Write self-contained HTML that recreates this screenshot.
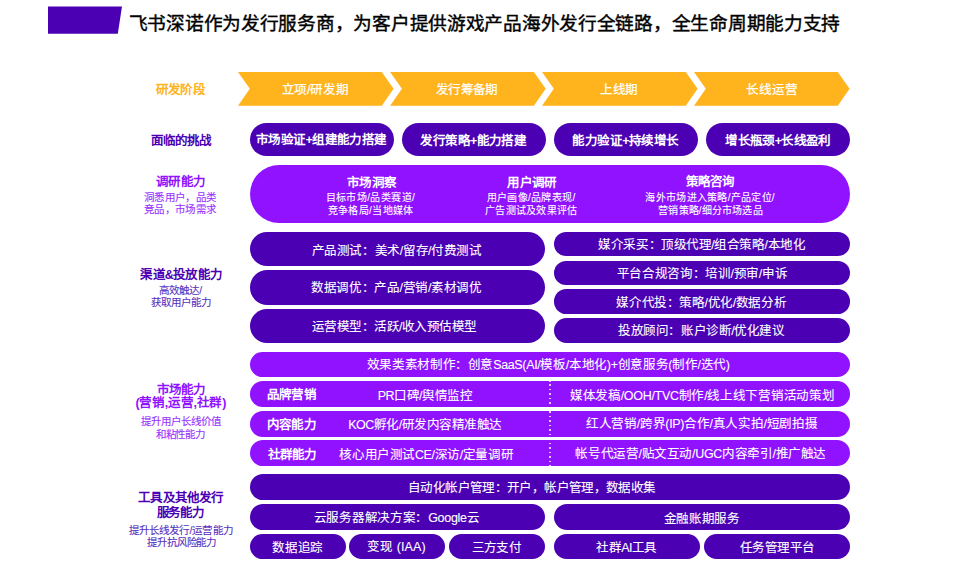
<!DOCTYPE html>
<html lang="zh-CN"><head><meta charset="utf-8">
<style>
*{margin:0;padding:0;box-sizing:border-box}
html,body{width:960px;height:571px;background:#fff;overflow:hidden;font-family:"Liberation Sans",sans-serif}
.a{position:absolute}
.t{position:absolute;white-space:nowrap;text-align:center;line-height:1}
</style></head><body>
<svg class="a" style="left:0;top:0" width="960" height="571">
<polygon points="48,6.5 122,6.5 117.8,33.8 48,33.8" fill="#4B00B4"/>
<polygon points="238,72 381.8,72 393.6,88.85 381.8,105.7 238,105.7 249.8,88.85" fill="#FFB31D"/>
<polygon points="390.1,72 533.9,72 545.7,88.85 533.9,105.7 390.1,105.7 401.9,88.85" fill="#FFB31D"/>
<polygon points="542.05,72 685.8,72 697.6,88.85 685.8,105.7 542.05,105.7 553.8,88.85" fill="#FFB31D"/>
<polygon points="694,72 837.8,72 849.6,88.85 837.8,105.7 694,105.7 705.8,88.85" fill="#FFB31D"/>
</svg>
<div class="a" style="left:249.5px;top:122.9px;width:144.2px;height:33.3px;border-radius:16.6px;background:#4B00B4"></div>
<div class="a" style="left:401.9px;top:122.9px;width:144.0px;height:33.3px;border-radius:16.6px;background:#4B00B4"></div>
<div class="a" style="left:554.1px;top:122.9px;width:143.9px;height:33.3px;border-radius:16.6px;background:#4B00B4"></div>
<div class="a" style="left:706.0px;top:122.9px;width:143.9px;height:33.3px;border-radius:16.6px;background:#4B00B4"></div>
<div class="a" style="left:249.5px;top:164.6px;width:600.6px;height:58.4px;border-radius:29.2px;background:#9012FF"></div>
<div class="a" style="left:249.5px;top:231.5px;width:295.8px;height:34.8px;border-radius:17.4px;background:#4B00B4"></div>
<div class="a" style="left:249.5px;top:269.9px;width:295.8px;height:34.8px;border-radius:17.4px;background:#4B00B4"></div>
<div class="a" style="left:249.5px;top:308.5px;width:295.8px;height:34.6px;border-radius:17.3px;background:#4B00B4"></div>
<div class="a" style="left:554.4px;top:231.5px;width:295.6px;height:24.8px;border-radius:12.4px;background:#4B00B4"></div>
<div class="a" style="left:554.4px;top:260.5px;width:295.6px;height:24.8px;border-radius:12.4px;background:#4B00B4"></div>
<div class="a" style="left:554.4px;top:289.4px;width:295.6px;height:24.6px;border-radius:12.3px;background:#4B00B4"></div>
<div class="a" style="left:554.4px;top:318.4px;width:295.6px;height:24.7px;border-radius:12.4px;background:#4B00B4"></div>
<div class="a" style="left:249.5px;top:351.5px;width:600.5px;height:25.8px;border-radius:12.9px;background:#9012FF"></div>
<div class="a" style="left:249.5px;top:381.2px;width:600.5px;height:25.6px;border-radius:12.8px;background:#9012FF"></div>
<div class="a" style="left:249.5px;top:410.8px;width:600.5px;height:25.8px;border-radius:12.9px;background:#9012FF"></div>
<div class="a" style="left:249.5px;top:440.2px;width:600.5px;height:26.0px;border-radius:13.0px;background:#9012FF"></div>
<div class="a" style="left:249.5px;top:474.2px;width:600.5px;height:26.0px;border-radius:13.0px;background:#4B00B4"></div>
<div class="a" style="left:249.5px;top:503.9px;width:295.5px;height:26.0px;border-radius:13.0px;background:#4B00B4"></div>
<div class="a" style="left:554.4px;top:503.9px;width:295.6px;height:26.0px;border-radius:13.0px;background:#4B00B4"></div>
<div class="a" style="left:249.5px;top:533.6px;width:96.3px;height:25.9px;border-radius:12.9px;background:#4B00B4"></div>
<div class="a" style="left:349.2px;top:533.6px;width:96.1px;height:25.9px;border-radius:12.9px;background:#4B00B4"></div>
<div class="a" style="left:449.2px;top:533.6px;width:95.8px;height:25.9px;border-radius:12.9px;background:#4B00B4"></div>
<div class="a" style="left:554.4px;top:533.6px;width:145.8px;height:25.9px;border-radius:12.9px;background:#4B00B4"></div>
<div class="a" style="left:704.4px;top:533.6px;width:145.6px;height:25.9px;border-radius:12.9px;background:#4B00B4"></div>
<div class="a" style="left:549px;top:380.35px;width:2px;height:86.6px;background:repeating-linear-gradient(to bottom,rgba(255,255,255,.8) 0,rgba(255,255,255,.8) 1.5px,transparent 1.5px,transparent 4.48px)"></div>
<div id="title" class="t" style="left:84.54px;top:15.39px;width:800px;font-size:18.7px;font-weight:400;color:#000;letter-spacing:-0.277px;text-indent:-0.277px;-webkit-text-stroke:0.4px #000">飞书深诺作为发行服务商，为客户提供游戏产品海外发行全链路，全生命周期能力支持</div>
<div id="yfjd" class="t" style="left:-219.30px;top:84.08px;width:800px;font-size:12.5px;font-weight:700;color:#FFB31D;letter-spacing:-0.600px;text-indent:-0.600px">研发阶段</div>
<div id="arr1" class="t" style="left:-84.90px;top:84.40px;width:800px;font-size:12.5px;font-weight:500;color:#fff;letter-spacing:-0.296px;text-indent:-0.296px;-webkit-text-stroke:0.25px #fff">立项/研发期</div>
<div id="arr2" class="t" style="left:67.00px;top:84.40px;width:800px;font-size:12.5px;font-weight:500;color:#fff;letter-spacing:-0.695px;text-indent:-0.695px;-webkit-text-stroke:0.25px #fff">发行筹备期</div>
<div id="arr3" class="t" style="left:219.04px;top:84.40px;width:800px;font-size:12.5px;font-weight:500;color:#fff;letter-spacing:-0.250px;text-indent:-0.250px;-webkit-text-stroke:0.25px #fff">上线期</div>
<div id="arr4" class="t" style="left:371.80px;top:84.40px;width:800px;font-size:12.5px;font-weight:500;color:#fff;letter-spacing:-0.040px;text-indent:-0.040px;-webkit-text-stroke:0.25px #fff">长线运营</div>
<div id="mldtz" class="t" style="left:-218.60px;top:134.71px;width:800px;font-size:12.5px;font-weight:700;color:#4B00B4;letter-spacing:-1.020px;text-indent:-1.020px">面临的挑战</div>
<div id="dyh" class="t" style="left:-219.00px;top:176.19px;width:800px;font-size:12.5px;font-weight:700;color:#9012FF;letter-spacing:-0.740px;text-indent:-0.740px">调研能力</div>
<div id="dys1" class="t" style="left:-219.86px;top:192.09px;width:800px;font-size:10.5px;font-weight:400;color:#9830FF;letter-spacing:0.367px;text-indent:0.367px;-webkit-text-stroke:0.1px #9830FF">洞悉用户，品类</div>
<div id="dys2" class="t" style="left:-219.86px;top:203.71px;width:800px;font-size:10.5px;font-weight:400;color:#9830FF;letter-spacing:0.367px;text-indent:0.367px;-webkit-text-stroke:0.1px #9830FF">竞品，市场需求</div>
<div id="qdh" class="t" style="left:-218.40px;top:268.75px;width:800px;font-size:12.5px;font-weight:700;color:#4B00B4;letter-spacing:-0.733px;text-indent:-0.733px">渠道&amp;投放能力</div>
<div id="qds1" class="t" style="left:-219.54px;top:284.83px;width:800px;font-size:10.5px;font-weight:400;color:#5530C0;letter-spacing:0.095px;text-indent:0.095px;-webkit-text-stroke:0.1px #5530C0">高效触达/</div>
<div id="qds2" class="t" style="left:-219.10px;top:296.80px;width:800px;font-size:10.5px;font-weight:400;color:#5530C0;letter-spacing:0.080px;text-indent:0.080px;-webkit-text-stroke:0.1px #5530C0">获取用户能力</div>
<div id="sch1" class="t" style="left:-218.55px;top:384.17px;width:800px;font-size:12.5px;font-weight:700;color:#9012FF;letter-spacing:-1.150px;text-indent:-1.150px">市场能力</div>
<div id="sch2" class="t" style="left:-219.10px;top:397.12px;width:800px;font-size:12.5px;font-weight:700;color:#9012FF;letter-spacing:-0.256px;text-indent:-0.256px">(营销,运营,社群)</div>
<div id="scs1" class="t" style="left:-219.30px;top:416.21px;width:800px;font-size:10.5px;font-weight:400;color:#9830FF;letter-spacing:0.014px;text-indent:0.014px;-webkit-text-stroke:0.1px #9830FF">提升用户长线价值</div>
<div id="scs2" class="t" style="left:-219.55px;top:428.65px;width:800px;font-size:10.5px;font-weight:400;color:#9830FF;letter-spacing:-0.237px;text-indent:-0.237px;-webkit-text-stroke:0.1px #9830FF">和粘性能力</div>
<div id="gjh1" class="t" style="left:-218.80px;top:491.70px;width:800px;font-size:12.5px;font-weight:700;color:#4B00B4;letter-spacing:-0.867px;text-indent:-0.867px">工具及其他发行</div>
<div id="gjh2" class="t" style="left:-219.18px;top:507.00px;width:800px;font-size:12.5px;font-weight:700;color:#4B00B4;letter-spacing:-1.200px;text-indent:-1.200px">服务能力</div>
<div id="gjs1" class="t" style="left:-219.10px;top:524.70px;width:800px;font-size:10.5px;font-weight:400;color:#5530C0;letter-spacing:0.040px;text-indent:0.040px;-webkit-text-stroke:0.1px #5530C0">提升长线发行/运营能力</div>
<div id="gjs2" class="t" style="left:-218.40px;top:537.15px;width:800px;font-size:10.5px;font-weight:400;color:#5530C0;letter-spacing:-0.100px;text-indent:-0.100px;-webkit-text-stroke:0.1px #5530C0">提升抗风险能力</div>
<div id="r2p1" class="t" style="left:-78.40px;top:134.41px;width:800px;font-size:12.5px;font-weight:700;color:#fff;letter-spacing:-0.600px;text-indent:-0.600px">市场验证+组建能力搭建</div>
<div id="r2p2" class="t" style="left:73.60px;top:135.20px;width:800px;font-size:12.5px;font-weight:700;color:#fff;letter-spacing:-0.625px;text-indent:-0.625px">发行策略+能力搭建</div>
<div id="r2p3" class="t" style="left:225.80px;top:135.10px;width:800px;font-size:12.5px;font-weight:700;color:#fff;letter-spacing:-0.533px;text-indent:-0.533px">能力验证+持续增长</div>
<div id="r2p4" class="t" style="left:378.30px;top:135.10px;width:800px;font-size:12.5px;font-weight:700;color:#fff;letter-spacing:-0.658px;text-indent:-0.658px">增长瓶颈+长线盈利</div>
<div id="r3h1" class="t" style="left:-28.00px;top:176.75px;width:800px;font-size:12.5px;font-weight:700;color:#fff;letter-spacing:-0.767px;text-indent:-0.767px">市场洞察</div>
<div id="r3a1" class="t" style="left:-29.74px;top:193.07px;width:800px;font-size:10px;font-weight:400;color:#fff;letter-spacing:0.402px;text-indent:0.402px;-webkit-text-stroke:0.1px #fff">目标市场/品类赛道/</div>
<div id="r3b1" class="t" style="left:-29.50px;top:205.50px;width:800px;font-size:10px;font-weight:400;color:#fff;letter-spacing:0.375px;text-indent:0.375px;-webkit-text-stroke:0.1px #fff">竞争格局/当地媒体</div>
<div id="r3h2" class="t" style="left:132.25px;top:176.75px;width:800px;font-size:12.5px;font-weight:700;color:#fff;letter-spacing:-0.750px;text-indent:-0.750px">用户调研</div>
<div id="r3a2" class="t" style="left:131.00px;top:193.07px;width:800px;font-size:10px;font-weight:400;color:#fff;letter-spacing:0.333px;text-indent:0.333px;-webkit-text-stroke:0.1px #fff">用户画像/品牌表现/</div>
<div id="r3b2" class="t" style="left:131.00px;top:205.50px;width:800px;font-size:10px;font-weight:400;color:#fff;letter-spacing:0.250px;text-indent:0.250px;-webkit-text-stroke:0.1px #fff">广告测试及效果评估</div>
<div id="r3h3" class="t" style="left:310.50px;top:175.90px;width:800px;font-size:12.5px;font-weight:700;color:#fff;letter-spacing:-0.867px;text-indent:-0.867px">策略咨询</div>
<div id="r3a3" class="t" style="left:310.00px;top:193.07px;width:800px;font-size:10px;font-weight:400;color:#fff;letter-spacing:0.278px;text-indent:0.278px;-webkit-text-stroke:0.1px #fff">海外市场进入策略/产品定位/</div>
<div id="r3b3" class="t" style="left:310.40px;top:205.50px;width:800px;font-size:10px;font-weight:400;color:#fff;letter-spacing:0.150px;text-indent:0.150px;-webkit-text-stroke:0.1px #fff">营销策略/细分市场选品</div>
<div id="r4a" class="t" style="left:-3.18px;top:244.90px;width:800px;font-size:12.5px;font-weight:400;color:#fff;letter-spacing:-0.407px;text-indent:-0.407px;-webkit-text-stroke:0.1px #fff">产品测试：美术/留存/付费测试</div>
<div id="r4b" class="t" style="left:-3.54px;top:281.50px;width:800px;font-size:12.5px;font-weight:400;color:#fff;letter-spacing:-0.339px;text-indent:-0.339px;-webkit-text-stroke:0.1px #fff">数据调优：产品/营销/素材调优</div>
<div id="r4c" class="t" style="left:-5.52px;top:320.50px;width:800px;font-size:12.5px;font-weight:400;color:#fff;letter-spacing:-0.526px;text-indent:-0.526px;-webkit-text-stroke:0.1px #fff">运营模型：活跃/收入预估模型</div>
<div id="r4r1" class="t" style="left:302.00px;top:239.28px;width:800px;font-size:12.5px;font-weight:400;color:#fff;letter-spacing:-0.442px;text-indent:-0.442px;-webkit-text-stroke:0.1px #fff">媒介采买：顶级代理/组合策略/本地化</div>
<div id="r4r2" class="t" style="left:302.20px;top:268.25px;width:800px;font-size:12.5px;font-weight:400;color:#fff;letter-spacing:-0.371px;text-indent:-0.371px;-webkit-text-stroke:0.1px #fff">平台合规咨询：培训/预审/申诉</div>
<div id="r4r3" class="t" style="left:301.54px;top:296.89px;width:800px;font-size:12.5px;font-weight:400;color:#fff;letter-spacing:-0.410px;text-indent:-0.410px;-webkit-text-stroke:0.1px #fff">媒介代投：策略/优化/数据分析</div>
<div id="r4r4" class="t" style="left:301.55px;top:325.19px;width:800px;font-size:12.5px;font-weight:400;color:#fff;letter-spacing:-0.472px;text-indent:-0.472px;-webkit-text-stroke:0.1px #fff">投放顾问：账户诊断/优化建议</div>
<div id="r5" class="t" style="left:148.30px;top:358.97px;width:800px;font-size:12.5px;font-weight:400;color:#fff;letter-spacing:-0.341px;text-indent:-0.341px;-webkit-text-stroke:0.1px #fff">效果类素材制作：创意SaaS(AI/模板/本地化)+创意服务(制作/迭代)</div>
<div id="r6l" class="t" style="left:-108.40px;top:389.28px;width:800px;font-size:12.5px;font-weight:700;color:#fff;letter-spacing:-0.600px;text-indent:-0.600px">品牌营销</div>
<div id="r7l" class="t" style="left:-108.40px;top:418.95px;width:800px;font-size:12.5px;font-weight:700;color:#fff;letter-spacing:-0.600px;text-indent:-0.600px">内容能力</div>
<div id="r8l" class="t" style="left:-107.40px;top:448.70px;width:800px;font-size:12.5px;font-weight:700;color:#fff;letter-spacing:-0.927px;text-indent:-0.927px">社群能力</div>
<div id="r6m" class="t" style="left:25.18px;top:390.42px;width:800px;font-size:12.5px;font-weight:400;color:#fff;letter-spacing:-0.500px;text-indent:-0.500px;-webkit-text-stroke:0.1px #fff">PR口碑/舆情监控</div>
<div id="r7m" class="t" style="left:25.20px;top:419.30px;width:800px;font-size:12.5px;font-weight:400;color:#fff;letter-spacing:-0.502px;text-indent:-0.502px;-webkit-text-stroke:0.1px #fff">KOC孵化/研发内容精准触达</div>
<div id="r8m" class="t" style="left:26.50px;top:448.50px;width:800px;font-size:12.5px;font-weight:400;color:#fff;letter-spacing:-0.417px;text-indent:-0.417px;-webkit-text-stroke:0.1px #fff">核心用户测试CE/深访/定量调研</div>
<div id="r6r" class="t" style="left:302.26px;top:389.65px;width:800px;font-size:12.5px;font-weight:400;color:#fff;letter-spacing:-0.292px;text-indent:-0.292px;-webkit-text-stroke:0.1px #fff">媒体发稿/OOH/TVC制作/线上线下营销活动策划</div>
<div id="r7r" class="t" style="left:301.90px;top:418.01px;width:800px;font-size:12.5px;font-weight:400;color:#fff;letter-spacing:-0.303px;text-indent:-0.303px;-webkit-text-stroke:0.1px #fff">红人营销/跨界(IP)合作/真人实拍/短剧拍摄</div>
<div id="r8r" class="t" style="left:300.89px;top:448.09px;width:800px;font-size:12.5px;font-weight:400;color:#fff;letter-spacing:-0.371px;text-indent:-0.371px;-webkit-text-stroke:0.1px #fff">帐号代运营/贴文互动/UGC内容牵引/推广触达</div>
<div id="r9" class="t" style="left:132.10px;top:482.28px;width:800px;font-size:12.5px;font-weight:400;color:#fff;letter-spacing:-0.632px;text-indent:-0.632px;-webkit-text-stroke:0.1px #fff">自动化帐户管理：开户，帐户管理，数据收集</div>
<div id="r10a" class="t" style="left:-3.25px;top:511.78px;width:800px;font-size:12.5px;font-weight:400;color:#fff;letter-spacing:-0.290px;text-indent:-0.290px;-webkit-text-stroke:0.1px #fff">云服务器解决方案：Google云</div>
<div id="r10b" class="t" style="left:301.75px;top:513.16px;width:800px;font-size:12.5px;font-weight:400;color:#fff;letter-spacing:-0.330px;text-indent:-0.330px;-webkit-text-stroke:0.1px #fff">金融账期服务</div>
<div id="r11a" class="t" style="left:-102.20px;top:542.30px;width:800px;font-size:12.5px;font-weight:400;color:#fff;letter-spacing:-0.333px;text-indent:-0.333px;-webkit-text-stroke:0.1px #fff">数据追踪</div>
<div id="r11b" class="t" style="left:-3.70px;top:541.30px;width:800px;font-size:12.5px;font-weight:400;color:#fff;letter-spacing:0.100px;text-indent:0.100px;-webkit-text-stroke:0.1px #fff">变现 (IAA)</div>
<div id="r11c" class="t" style="left:96.70px;top:542.30px;width:800px;font-size:12.5px;font-weight:400;color:#fff;letter-spacing:-0.700px;text-indent:-0.700px;-webkit-text-stroke:0.1px #fff">三方支付</div>
<div id="r11d" class="t" style="left:226.77px;top:542.30px;width:800px;font-size:12.5px;font-weight:400;color:#fff;letter-spacing:-0.538px;text-indent:-0.538px;-webkit-text-stroke:0.1px #fff">社群AI工具</div>
<div id="r11e" class="t" style="left:377.50px;top:542.30px;width:800px;font-size:12.5px;font-weight:400;color:#fff;letter-spacing:-0.500px;text-indent:-0.500px;-webkit-text-stroke:0.1px #fff">任务管理平台</div>
</body></html>
